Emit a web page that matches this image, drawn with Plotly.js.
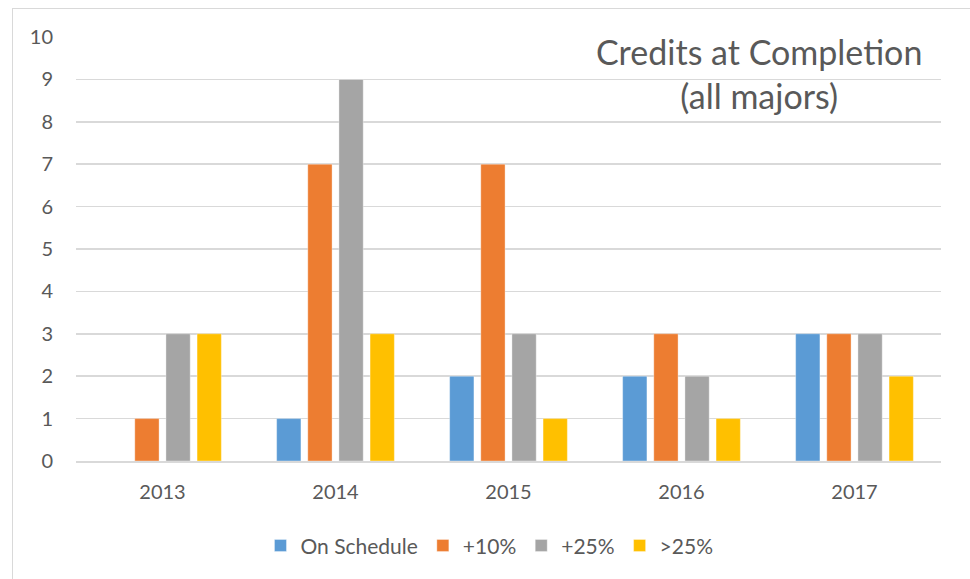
<!DOCTYPE html>
<html>
<head>
<meta charset="utf-8">
<script src="https://cdn.plot.ly/plotly-3.0.1.min.js"></script>
<style>
  html, body { margin: 0; padding: 0; background: #fff; }
  #frame { position: absolute; left: 12px; top: 8px; width: 970px; height: 590px; border: 1px solid #d9d9d9; box-sizing: border-box; }
  #chart { position: absolute; left: 0; top: 0; width: 970px; height: 579px; }
</style>
</head>
<body>
<div id="frame"></div>
<div id="chart"></div>
<script>
const years = ['2013', '2014', '2015', '2016', '2017'];
const onSchedule = [0, 1, 2, 2, 3];
const plus10 = [1, 7, 7, 3, 3];
const plus25 = [3, 9, 3, 2, 3];
const over25 = [3, 3, 1, 1, 2];
const seriesNames = ['On Schedule', '+10%', '+25%', '>25%'];
const colors = ['#5b9bd5', '#ed7d31', '#a5a5a5', '#ffc000'];
const yTicks = [0, 1, 2, 3, 4, 5, 6, 7, 8, 9, 10];

const allVals = [onSchedule, plus10, plus25, over25];
const traces = allVals.map((vals, i) => ({
  type: 'bar',
  name: seriesNames[i],
  x: years,
  y: vals,
  marker: { color: colors[i], line: { color: 'rgba(255,255,255,0.35)', width: 1 } },
  hoverinfo: 'x+y+name'
}));

const layout = {
  width: 970,
  height: 579,
  paper_bgcolor: 'rgba(0,0,0,0)',
  plot_bgcolor: 'rgba(0,0,0,0)',
  margin: { l: 76, r: 29, t: 37, b: 118 },
  barmode: 'group',
  bargap: 0.28,
  bargroupgap: 0.22,
  font: { family: 'Lato, "Open Sans", sans-serif', size: 20, color: '#595959' },
  xaxis: {
    type: 'category',
    showgrid: false,
    showline: true,
    linecolor: '#d9d9d9',
    linewidth: 1.5,
    ticks: '',
    ticklabelstandoff: 12,
    tickfont: { size: 20, color: '#595959' },
    fixedrange: true
  },
  yaxis: {
    range: [0, 10],
    tickvals: yTicks,
    ticktext: yTicks.map(String),
    showgrid: true,
    gridcolor: '#d9d9d9',
    gridwidth: 1.5,
    zeroline: false,
    showline: false,
    ticks: '',
    ticklabelstandoff: 22,
    tickfont: { size: 20, color: '#595959' },
    fixedrange: true
  },
  showlegend: true,
  legend: {
    orientation: 'h',
    x: 0.478,
    xanchor: 'center',
    y: -0.2,
    yanchor: 'middle',
    font: { size: 21, color: '#595959' },
    itemwidth: 30,
    tracegroupgap: 0
  },
  annotations: [{
    xref: 'paper', yref: 'paper',
    x: 0.79, y: 1.018,
    xanchor: 'center', yanchor: 'top',
    text: 'Credits at Completion<br>(all majors)',
    showarrow: false,
    font: { size: 34, color: '#595959' }
  }]
};

Plotly.newPlot('chart', traces, layout, { displayModeBar: false, staticPlot: true });
</script>
</body>
</html>
